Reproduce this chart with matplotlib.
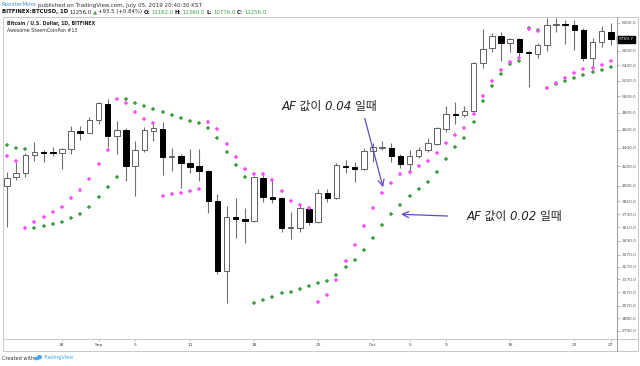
import numpy as np
import pandas as pd
import matplotlib
matplotlib.use('Agg')
import matplotlib.pyplot as plt
import matplotlib.dates as mdates
from matplotlib.lines import Line2D
from matplotlib.patches import Ellipse
from matplotlib.ticker import FixedLocator, NullLocator, FuncFormatter

plt.rcParams['font.family'] = ['DejaVu Sans', 'Noto Sans CJK KR']

# BTCUSD daily, Bitfinex, 2017-08-22 .. 2017-10-27
dates = pd.date_range('2017-08-22', '2017-10-27', freq='D')
opens = [4000, 4087, 4128, 4321, 4350, 4350, 4345, 4382, 4586, 4567,
         4713, 4905, 4529, 4597, 4204, 4373, 4589, 4609, 4302, 4310,
         4232, 4204, 4152, 3853, 3240, 3701, 3680, 3668, 4084, 3895,
         3879, 3601, 3601, 3781, 3654, 3934, 3883, 4204, 4190, 4169,
         4367, 4400, 4400, 4310, 4222, 4313, 4373, 4437, 4609, 4784,
         4772, 4821, 5436, 5634, 5813, 5705, 5762, 5578, 5555, 5680,
         5966, 5985, 5970, 5897, 5498, 5719, 5871]
highs = [4142, 4243, 4337, 4463, 4373, 4404, 4396, 4644, 4644, 4745,
         4933, 4967, 4702, 4620, 4474, 4636, 4683, 4690, 4393, 4327,
         4385, 4382, 4161, 3918, 3809, 3879, 3784, 4100, 4117, 4059,
         3890, 3746, 3806, 3794, 3975, 3975, 4239, 4266, 4248, 4393,
         4448, 4477, 4448, 4327, 4373, 4411, 4505, 4636, 4884, 4933,
         4884, 5450, 5911, 5847, 5872, 5782, 5776, 5596, 5712, 6080,
         6080, 6045, 6045, 5922, 5782, 5955, 6005]
lows = [3612, 4059, 4090, 4253, 4243, 4310, 4176, 4330, 4484, 4560,
        4664, 4404, 4330, 4052, 3902, 4355, 4472, 4111, 4155, 3977,
        4128, 4052, 3737, 3213, 2992, 3517, 3474, 3660, 3847, 3834,
        3564, 3503, 3564, 3628, 3645, 3847, 3877, 4128, 4040, 4161,
        4248, 4373, 4248, 4180, 4118, 4290, 4355, 4432, 4578, 4664,
        4751, 4810, 5360, 5587, 5459, 5587, 5496, 5113, 5504, 5596,
        5862, 5700, 5610, 5459, 5365, 5656, 5680]
closes = [4084, 4128, 4321, 4353, 4340, 4345, 4386, 4586, 4567, 4713,
          4913, 4529, 4597, 4204, 4373, 4597, 4617, 4302, 4310, 4239,
          4196, 4152, 3853, 3240, 3701, 3680, 3668, 4087, 3895, 3872,
          3601, 3614, 3784, 3660, 3934, 3883, 4214, 4190, 4172, 4367,
          4411, 4405, 4310, 4222, 4313, 4373, 4448, 4618, 4781, 4772,
          4824, 5428, 5624, 5813, 5705, 5762, 5587, 5562, 5680, 5970,
          5990, 5966, 5897, 5504, 5719, 5877, 5759.7]

# Parabolic SAR, AF 0.04 (magenta) and AF 0.02 (green)
sar_04 = [4313, 4260, 3606, 3655, 3706, 3750, 3796, 3879, 3957, 4067,
          4225, 4374, 4966, 4913, 4812, 4722, 4683, 3902, 3918, 3934,
          3951, 3967, 4694, 4606, 4441, 4296, 4170, 4126, 4121, 4060,
          3953, 3853, 3812, 3790, 2995, 3050, 3166, 3322, 3454, 3624,
          3790, 3928, 4027, 4121, 4139, 4204, 4260, 4339, 4448, 4541,
          4624, 4784, 5007, 5194, 5338, 5449, 5504, 5907, 5886, 5108,
          5172, 5237, 5294, 5347, 5360, 5405, 5459]
sar_02 = [4429, 4400, 4382, 3606, 3624, 3639, 3655, 3697, 3734, 3796,
          3889, 3993, 4091, 4966, 4921, 4884, 4841, 4805, 4772, 4734,
          4702, 4675, 4618, 4504, 4350, 4214, 4094, 2992, 3012, 3033,
          3063, 3075, 3096, 3121, 3140, 3158, 3206, 3268, 3327, 3411,
          3517, 3630, 3731, 3815, 3902, 3970, 4043, 4139, 4275, 4404,
          4511, 4694, 4941, 5133, 5285, 5414, 5459, 5926, 5896, 5108,
          5152, 5194, 5237, 5272, 5308, 5338, 5382]

price_ticks = [6000, 5600, 5400, 5200, 5000, 4800, 4600, 4400, 4200, 4000,
               3850, 3730, 3610, 3490, 3370, 3270, 3170, 3070, 2970, 2880, 2790]
date_ticks = ['2017-08-28', '2017-09-01', '2017-09-05', '2017-09-11', '2017-09-18',
              '2017-09-25', '2017-10-01', '2017-10-05', '2017-10-09', '2017-10-16',
              '2017-10-23', '2017-10-27']
date_labels = ['28', 'Sep', '5', '11', '18', '25', 'Oct', '5', '9', '16', '23', '27']

W, H = 640, 366
fig = plt.figure(figsize=(6.4, 3.66), dpi=100)
fig.patch.set_facecolor('white')


def fx(px):
    return px / W


def fy(py):
    return 1 - py / H


ax = fig.add_axes([fx(3), fy(339), fx(617) - fx(3), fy(17) - fy(339)])
x = mdates.date2num(dates)
o = np.array(opens, float)
h = np.array(highs, float)
l = np.array(lows, float)
c = np.array(closes, float)
up = c >= o

ax.vlines(x, l, h, color='#707070', lw=0.8, zorder=1)
ax.bar(x[up], c[up] - o[up], bottom=o[up], width=0.6, color='white',
       edgecolor='#606060', lw=0.7, zorder=2)
ax.bar(x[~up], o[~up] - c[~up], bottom=c[~up], width=0.6, color='black',
       edgecolor='black', lw=0.7, zorder=2)

ax.plot(x, sar_02, ls='none', marker='+', ms=3.2, mew=1.1, color='#43a047', zorder=3)
ax.plot(x, sar_04, ls='none', marker='+', ms=3.2, mew=1.1, color='#ff4dff', zorder=3)

ax.set_yscale('log')
ax.set_ylim(2733.6, 6090.2)
ax.set_xlim(x[0] - 0.44, x[0] + 66.67)
for s in ax.spines.values():
    s.set_visible(False)

ax.yaxis.tick_right()
ax.yaxis.set_major_locator(FixedLocator(price_ticks))
ax.yaxis.set_minor_locator(NullLocator())
ax.yaxis.set_major_formatter(FuncFormatter(lambda v, p: f'{v:.1f}'))
ax.tick_params(axis='y', direction='out', length=2, width=0.5, color='#999999',
               labelsize=3.1, labelcolor='#555555', pad=1.5)
ax.set_xticks(mdates.date2num(pd.to_datetime(date_ticks)))
ax.set_xticklabels(date_labels)
ax.tick_params(axis='x', direction='out', length=1.5, width=0.5, color='#999999',
               labelsize=3.2, labelcolor='#444444', pad=1.2)

# last price tag
ax.text(1.003, c[-1], f'{c[-1]:.1f}', transform=ax.get_yaxis_transform(),
        ha='left', va='center', fontsize=3.1, color='white', zorder=5,
        bbox=dict(boxstyle='square,pad=0.35', fc='black', ec='black'))

# frame lines
for xs, ys, col in [((3, 638), (17, 17), '#c8c8c8'), ((3, 638), (339, 339), '#c8c8c8'),
                    ((3, 638), (351, 351), '#c8c8c8'), ((3, 3), (17, 351), '#c8c8c8'),
                    ((638, 638), (17, 351), '#c8c8c8'), ((617, 617), (17, 351), '#9a9a9a')]:
    fig.add_artist(Line2D([fx(xs[0]), fx(xs[1])], [fy(ys[0]), fy(ys[1])],
                          transform=fig.transFigure, color=col, lw=0.7))

# annotations
purple = '#6447c6'
kfont = ['DejaVu Sans', 'Noto Sans CJK KR']
ax.text(x[0] + 35.3, 4881, 'AF 값이 0.04 일때', ha='center', va='center',
        fontsize=8.5, style='italic', family=kfont, color='#222222', zorder=6)
ax.annotate('', xy=(x[0] + 41.1, 3987), xytext=(x[0] + 39.1, 4734),
            arrowprops=dict(arrowstyle='->,head_length=0.45,head_width=0.22',
                            color=purple, lw=0.9, shrinkA=0, shrinkB=0), zorder=6)
ax.text(x[0] + 55.5, 3705, 'AF 값이 0.02 일때', ha='center', va='center',
        fontsize=8.5, style='italic', family=kfont, color='#222222', zorder=6)
ax.annotate('', xy=(x[0] + 43.06, 3728), xytext=(x[0] + 48.16, 3712),
            arrowprops=dict(arrowstyle='->,head_length=0.45,head_width=0.22',
                            color=purple, lw=0.9, shrinkA=0, shrinkB=0), zorder=6)

renderer = fig.canvas.get_renderer()


def run_text(x0, y0, parts, size, gap=1.2):
    xx = x0
    for s, col, wt in parts:
        t = fig.text(xx, y0, s, color=col, fontsize=size, fontweight=wt,
                     ha='left', va='center')
        xx += t.get_window_extent(renderer).width / W + fx(gap)


green = '#3ca33c'
run_text(fx(2), fy(5), [('RoosterMine', '#3d8fe0', 'normal'),
                        ('published on TradingView.com, July 05, 2019 20:40:30 KST', '#333333', 'normal')],
         4.1, gap=1.3)
run_text(fx(2), fy(12), [('BITFINEX:BTCUSD, 1D', '#111111', 'bold'),
                         ('11256.0', '#222222', 'normal'), ('▲', green, 'normal'),
                         ('+93.5 (+0.84%)', '#222222', 'normal'),
                         ('O:', '#111111', 'bold'), ('11162.0', green, 'normal'),
                         ('H:', '#111111', 'bold'), ('11360.0', green, 'normal'),
                         ('L:', '#111111', 'bold'), ('10776.0', green, 'normal'),
                         ('C:', '#111111', 'bold'), ('11256.0', green, 'normal')],
         3.9, gap=1.2)
fig.text(fx(7), fy(24), 'Bitcoin / U.S. Dollar, 1D, BITFINEX', fontsize=3.3,
         fontweight='bold', color='#222222', ha='left', va='center')
fig.text(fx(7), fy(31), 'Awesome SteemCoinPan #13', fontsize=3.4,
         color='#333333', ha='left', va='center')

# footer
run_text(fx(2), fy(358), [('Created with', '#333333', 'normal')], 3.6, gap=0)
for cx, cy, ww, hh in [(36.5, 358.5, 5, 3.5), (39.5, 357.2, 5, 4.5)]:
    fig.add_artist(Ellipse((fx(cx), fy(cy)), fx(ww), hh / H, transform=fig.transFigure,
                           fc='#42a5f5', ec='none'))
fig.text(fx(43), fy(358), 'TradingView', fontsize=3.6, color='#42a5f5',
         ha='left', va='center')

fig.savefig('out.png', dpi=100, facecolor='white')
